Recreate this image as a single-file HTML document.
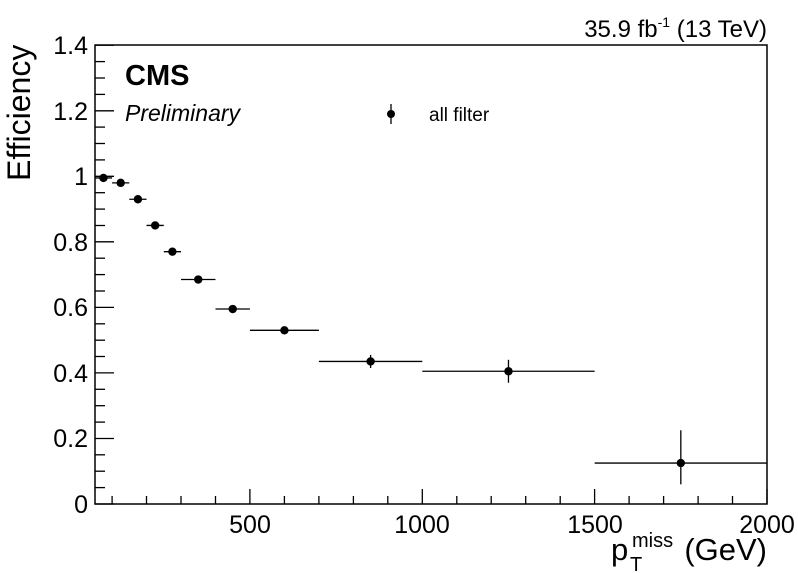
<!DOCTYPE html>
<html><head><meta charset="utf-8"><style>
html,body{margin:0;padding:0;background:#fff;}
svg{display:block;font-family:"Liberation Sans",Arial,sans-serif;}
</style></head><body>
<svg id="s" width="798" height="573" viewBox="0 0 798 573" xmlns="http://www.w3.org/2000/svg">
<rect x="95" y="45" width="672" height="459" fill="none" stroke="#000" stroke-width="1.5"/>
<g id="ticks" stroke="#000" stroke-width="1.3"></g>
<g id="pts"></g>
<g font-size="25" fill="#000" text-anchor="end">
<text x="88" y="513">0</text><text x="88" y="447">0.2</text><text x="88" y="382">0.4</text>
<text x="88" y="316">0.6</text><text x="88" y="251">0.8</text><text x="88" y="185">1</text>
<text x="88" y="120">1.2</text><text x="88" y="54">1.4</text>
</g>
<g font-size="25" fill="#000" text-anchor="middle">
<text x="250" y="533">500</text><text x="422" y="533">1000</text><text x="595" y="533">1500</text><text x="767" y="533">2000</text>
</g>
<text transform="translate(30,181) rotate(-90)" font-size="32" text-anchor="start">Efficiency</text>
<text x="611" y="560" font-size="31">p</text>
<text x="632" y="547" font-size="20">miss</text>
<text x="630" y="571" font-size="20">T</text>
<text x="767" y="560" font-size="31" text-anchor="end">(GeV)</text>
<text x="767" y="37" font-size="24" text-anchor="end">35.9 fb<tspan font-size="14" dy="-10">-1</tspan><tspan dy="10"> (13 TeV)</tspan></text>
<text x="125" y="85" font-size="29" font-weight="bold">CMS</text>
<text x="125" y="121" font-size="23" font-style="italic">Preliminary</text>
<line x1="391" y1="104" x2="391" y2="124" stroke="#000" stroke-width="1.3"/>
<circle cx="391" cy="114" r="4"/>
<text x="429" y="121" font-size="19">all filter</text>
</svg>
<script>
var X=function(v){return 77.6+v*0.3447;}, Y=function(v){return 504-v*327.7;};
var t='';
for(var v=0;v<=1.4001;v+=0.05){var maj=Math.abs(v/0.2-Math.round(v/0.2))<1e-6;var y=Y(v).toFixed(1);t+='<line x1="95" x2="'+(95+(maj?19:10))+'" y1="'+y+'" y2="'+y+'"/>';}
for(var g=100;g<=2000;g+=100){var maj=g%500==0;var x=X(g).toFixed(1);t+='<line y1="504" y2="'+(504-(maj?15:8))+'" x1="'+x+'" x2="'+x+'"/>';}
document.getElementById('ticks').innerHTML=t;
var d=[[50,100,0.995,0.004],[100,150,0.98,0.006],[150,200,0.93,0.008],[200,250,0.85,0.008],[250,300,0.77,0.008],[300,400,0.685,0.008],[400,500,0.595,0.008],[500,700,0.53,0.01],[700,1000,0.435,0.02],[1000,1500,0.405,0.035],[1500,2000,0.125,0.1,0.065]];
var p='';
d.forEach(function(a){var xc=X((a[0]+a[1])/2),y=Y(a[2]);var lo=a[4]||a[3];
p+='<line stroke="#000" stroke-width="1.3" x1="'+X(a[0])+'" x2="'+X(a[1])+'" y1="'+y+'" y2="'+y+'"/>';
p+='<line stroke="#000" stroke-width="1.3" x1="'+xc+'" x2="'+xc+'" y1="'+Y(a[2]+a[3])+'" y2="'+Y(a[2]-lo)+'"/>';
p+='<circle cx="'+xc+'" cy="'+y+'" r="4.2"/>';});
document.getElementById('pts').innerHTML=p;
</script>
</body></html>
